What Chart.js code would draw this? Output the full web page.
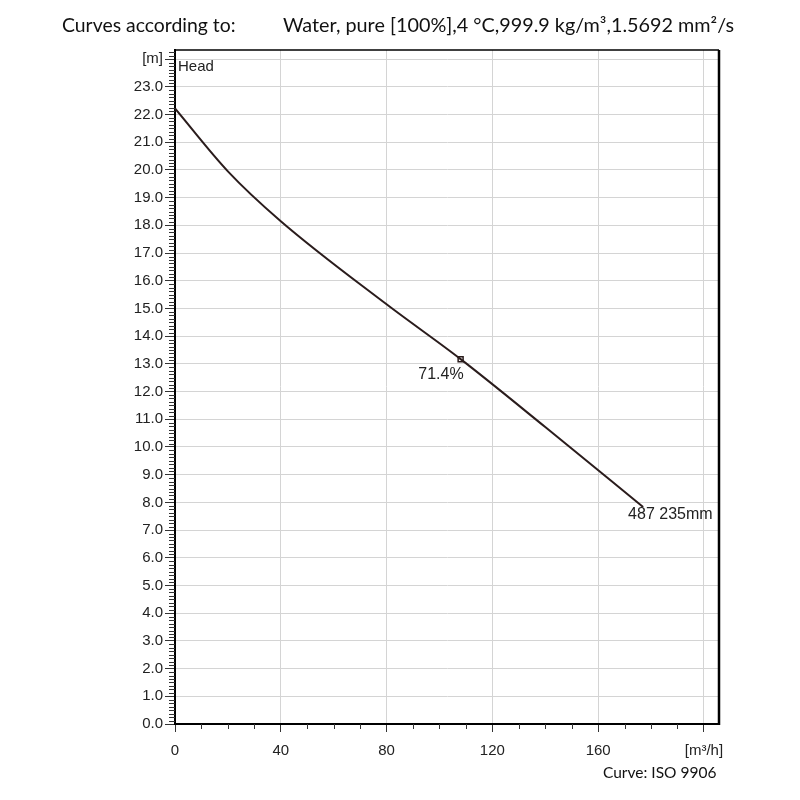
<!DOCTYPE html>
<html><head><meta charset="utf-8">
<script src="https://cdn.jsdelivr.net/npm/chart.js@4/dist/chart.umd.min.js"></script>
<style>
html,body{margin:0;padding:0;background:#fff;}
#wrap{position:relative;width:800px;height:800px;}
canvas{position:absolute;left:0;top:0;}
.t{position:absolute;font-family:Lato,'Open Sans',sans-serif;color:#111;white-space:nowrap;line-height:1;}
</style></head><body>
<div id="wrap"><canvas id="c" width="800" height="800"></canvas>
<div class="t" style="left:62px;top:15px;font-size:19.4px;">Curves according to:</div>
<div class="t" style="left:283px;top:15px;font-size:19.8px;">Water, pure [100%],4 °C,999.9 kg/m³,1.5692 mm²/s</div>
<div class="t" style="left:603px;top:765px;font-size:15.5px;">Curve: ISO 9906</div>
</div>
<script>
// Flow (m³/h) and head (m)
const flowQ = [0, 20, 40, 80, 108, 140, 177];
const headH = [22.22, 19.95, 18.15, 15.15, 13.17, 10.72, 7.83];
const dutyQ = [108];
const dutyH = [13.17];
const dutyLabel = '71.4%';
const curveLabel = '487 235mm';
const headLabel = 'Head';
const xTicks = [0, 40, 80, 120, 160, 200];
const yTicks = [0,1,2,3,4,5,6,7,8,9,10,11,12,13,14,15,16,17,18,19,20,21,22,23,24];
const xUnit = '[m³/h]';
const yUnit = '[m]';
const xMax = 205.7;
const yMax = 24.33;

const lineColor = '#2a1c1c';
const tickFont = {family: "'Liberation Sans', Arial, sans-serif", size: 15};

const extras = {
  id: 'extras',
  afterDraw(chart) {
    const {ctx, chartArea: a, scales: {x, y}} = chart;
    ctx.save();
    // minor ticks
    ctx.strokeStyle = '#333';
    ctx.lineWidth = 1;
    ctx.beginPath();
    for (let v = 10; v <= 200; v += 10) {
      if (v % 40 === 0) continue;
      const px = Math.round(x.getPixelForValue(v)) + 0.5;
      ctx.moveTo(px, a.bottom); ctx.lineTo(px, a.bottom + 5);
    }
    for (let k = 1; k / 8 <= yMax; k++) {
      if (k % 8 === 0) continue;
      const py = Math.round(y.getPixelForValue(k / 8)) + 0.5;
      ctx.moveTo(a.left - 6, py); ctx.lineTo(a.left, py);
    }
    ctx.stroke();
    // frame top / right
    ctx.strokeStyle = '#000';
    ctx.lineWidth = 1.5;
    ctx.beginPath(); ctx.moveTo(a.left, a.top); ctx.lineTo(a.right, a.top); ctx.stroke();
    ctx.lineWidth = 2.5;
    ctx.beginPath(); ctx.moveTo(a.right, a.top); ctx.lineTo(a.right, a.bottom + 1); ctx.stroke();
    // labels
    ctx.fillStyle = '#222';
    ctx.textBaseline = 'middle';
    ctx.textAlign = 'left';
    ctx.font = "15px 'Liberation Sans', Arial, sans-serif";
    ctx.fillText(headLabel, a.left + 3, a.top + 17);
    ctx.font = "16px 'Liberation Sans', Arial, sans-serif";
    const mx = x.getPixelForValue(dutyQ[0]), my = y.getPixelForValue(dutyH[0]);
    ctx.textAlign = 'right';
    ctx.fillText(dutyLabel, mx + 3, my + 15);
    const n = flowQ.length - 1;
    const ex = x.getPixelForValue(flowQ[n]), ey = y.getPixelForValue(headH[n]);
    ctx.textAlign = 'left';
    ctx.fillText(curveLabel, ex - 15, ey + 8);
    ctx.restore();
  }
};

new Chart(document.getElementById('c'), {
  type: 'line',
  data: {
    datasets: [
      {
        data: flowQ.map((q, i) => ({x: q, y: headH[i]})),
        borderColor: lineColor, borderWidth: 2, pointRadius: 0,
        cubicInterpolationMode: 'monotone', fill: false
      },
      {
        data: dutyQ.map((q, i) => ({x: q, y: dutyH[i]})),
        showLine: false, pointStyle: 'rect', pointRadius: 3.5,
        pointBorderWidth: 1.5, pointBackgroundColor: '#fff', pointBorderColor: lineColor
      }
    ]
  },
  options: {
    responsive: false, animation: false, devicePixelRatio: 1,
    layout: {padding: {top: 50, right: 81, left: 0, bottom: 0}},
    plugins: {legend: {display: false}, tooltip: {enabled: false}},
    scales: {
      x: {
        type: 'linear', min: 0, max: xMax,
        afterBuildTicks: s => { s.ticks = xTicks.map(v => ({value: v})); },
        afterFit: s => { s.height = 76; },
        ticks: {
          callback: v => v === 200 ? xUnit : String(v),
          font: tickFont, color: '#222', padding: 10, maxRotation: 0, autoSkip: false
        },
        grid: {
          color: c => (c.tick && c.tick.value === 0) ? 'rgba(0,0,0,0)' : '#d4d4d4',
          tickColor: '#333', tickLength: 8, lineWidth: 1
        },
        border: {color: '#000', width: 2}
      },
      y: {
        type: 'linear', min: 0, max: yMax,
        afterBuildTicks: s => { s.ticks = yTicks.map(v => ({value: v})); },
        afterFit: s => { s.width = 175; },
        ticks: {
          callback: v => v === 24 ? yUnit : v.toFixed(1),
          font: tickFont, color: '#222', padding: 2, autoSkip: false
        },
        grid: {
          color: c => (c.tick && c.tick.value === 0) ? 'rgba(0,0,0,0)' : '#d4d4d4',
          tickColor: '#333', tickLength: 10, lineWidth: 1
        },
        border: {color: '#000', width: 2}
      }
    }
  },
  plugins: [extras]
});
</script>
</body></html>
